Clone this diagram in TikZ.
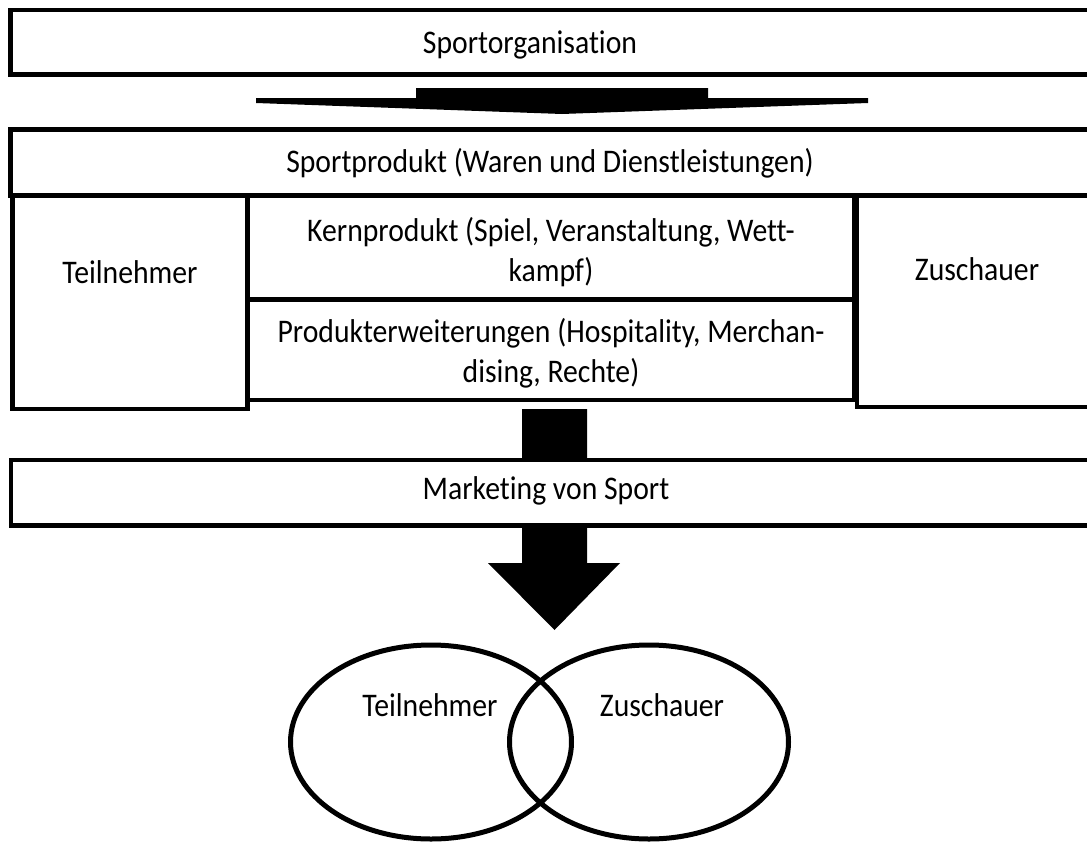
\documentclass[tikz,border=0pt]{standalone}
\usepackage{fontspec}
\setmainfont{Carlito}[Ligatures=NoCommon, FakeStretch=0.9]
\usetikzlibrary{shapes.geometric}
\begin{document}
\begin{tikzpicture}[x=1pt,y=-1pt,
  frame/.style={draw=black, line width=4.8pt, fill=white, rectangle,
    inner sep=0pt, outer sep=0pt, anchor=north west},
  lbl/.style={font=\fontsize{33}{40}\selectfont, inner sep=0pt, align=center, text=black},
  blockarrow/.style={fill=black, draw=none},
  ring/.style={draw=black, line width=5pt, ellipse, inner sep=0pt, outer sep=0pt}]
\useasboundingbox (0,0) rectangle (1087,843);
\clip (0,0) rectangle (1087,843);

% top level: the organisation
\node[frame, minimum width=1090pt, minimum height=64.5pt] (org) at (10.5,10) {};
\node[lbl] (orgT) at (530,45) {Sportorganisation};

% flat down arrow between organisation and product
\coordinate (a1) at (562,114);
\fill[blockarrow] (416,88) -- (708,88) -- (708,98) -- (868,98) -- (868,103)
  -- (a1) -- (256,103) -- (256,98) -- (416,98) -- cycle;

% big down arrow behind the marketing bar
\coordinate (a2) at (554.5,630);
\fill[blockarrow] (522,409) -- (587,409) -- (587,563) -- (620,563) -- (a2)
  -- (488,563) -- (522,563) -- cycle;

% product level
\node[frame, minimum width=235pt, minimum height=213.5pt] (teil) at (12.5,195.5) {};
\node[frame, minimum width=243pt, minimum height=211.5pt] (zus) at (857,195.5) {};
\node[frame, minimum width=607pt, minimum height=104pt] (kern) at (247.5,195.5) {};
\node[frame, minimum width=607pt, minimum height=100.5pt] (erw) at (247.5,299.5) {};
\node[frame, minimum width=1090pt, minimum height=66pt] (prod) at (10.5,129.5) {};

\node[lbl] (prodT) at (550,163) {Sportprodukt (Waren und Dienstleistungen)};
\node[lbl] (teilT) at (130,272) {Teilnehmer};
\node[lbl] (zusT) at (977,269) {Zuschauer};
\node[lbl] (kernT) at (551,252) {Kernprodukt (Spiel, Veranstaltung, Wett-\\kampf)};
\node[lbl] (erwT) at (551,353) {Produkterweiterungen (Hospitality, Merchan-\\dising, Rechte)};

% marketing bar, drawn over the shaft of the big arrow
\node[frame, minimum width=1090pt, minimum height=65.5pt] (mkt) at (11,460) {};
\node[lbl] (mktT) at (546,491) {Marketing von Sport};

% target groups
\node[ring, minimum width=281pt, minimum height=194pt] (vL) at (431,742) {};
\node[ring, minimum width=279pt, minimum height=194pt] (vR) at (649,742) {};
\node[lbl] (vLT) at (430,705) {Teilnehmer};
\node[lbl] (vRT) at (662,705) {Zuschauer};
\end{tikzpicture}
\end{document}
